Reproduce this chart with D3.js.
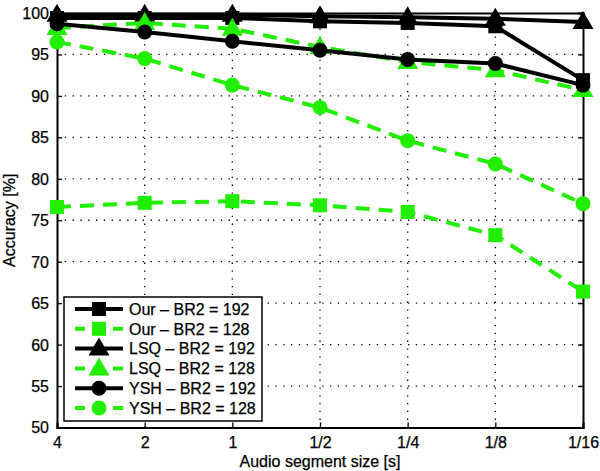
<!DOCTYPE html>
<html><head><meta charset="utf-8">
<script src="https://cdn.jsdelivr.net/npm/d3@7"></script>
<style>body{margin:0;background:#fff}svg{display:block;font-family:"Liberation Sans",Arial,sans-serif}</style>
</head><body><svg id="c" width="600" height="471"></svg>
<script>
const categories = ["4","2","1","1/2","1/4","1/8","1/16"];
const yTicks = [50,55,60,65,70,75,80,85,90,95,100];
const ourBR192 = [99.4,99.4,99.4,99.0,98.8,98.4,91.9];
const ourBR128 = [76.6,77.1,77.3,76.8,76.0,73.2,66.4];
const lsqBR192 = [99.8,99.8,99.8,99.6,99.5,99.3,98.9];
const lsqBR128 = [98.2,98.8,98.1,95.9,94.1,93.1,90.7];
const yshBR192 = [98.7,97.7,96.6,95.5,94.4,93.9,91.3];
const yshBR128 = [96.5,94.5,91.3,88.6,84.6,81.8,77.0];
const seriesNames = ["Our \u2013 BR2 = 192","Our \u2013 BR2 = 128","LSQ \u2013 BR2 = 192","LSQ \u2013 BR2 = 128","YSH \u2013 BR2 = 192","YSH \u2013 BR2 = 128"];
const xTitle = "Audio segment size [s]";
const yTitle = "Accuracy [%]";

const series = [
  {name:seriesNames[0], values:ourBR192, color:"#000", dash:null, marker:"square"},
  {name:seriesNames[1], values:ourBR128, color:"#22ee00", dash:"14,9", marker:"square"},
  {name:seriesNames[2], values:lsqBR192, color:"#000", dash:null, marker:"triangle"},
  {name:seriesNames[3], values:lsqBR128, color:"#22ee00", dash:"14,9", marker:"triangle"},
  {name:seriesNames[4], values:yshBR192, color:"#000", dash:null, marker:"circle"},
  {name:seriesNames[5], values:yshBR128, color:"#22ee00", dash:"14,9", marker:"circle"}
];

const FS = 16;
const svg = d3.select("#c");
const L=57, R=583, T=13, B=427.5;
const x = d3.scalePoint().domain(categories).range([L,R]).padding(0);
const y = d3.scaleLinear().domain([50,100]).range([B,T]);

// grid
const g = svg.append("g");
g.selectAll(".gy").data(yTicks.slice(1,-1)).join("line")
  .attr("x1",L).attr("x2",R).attr("y1",d=>y(d)).attr("y2",d=>y(d))
  .attr("stroke","#000").attr("stroke-width",1.3).attr("stroke-dasharray","1.3,6.5");
g.selectAll(".gx").data(categories.slice(1,-1)).join("line")
  .attr("y1",T).attr("y2",B).attr("x1",d=>x(d)).attr("x2",d=>x(d))
  .attr("stroke","#000").attr("stroke-width",1.3).attr("stroke-dasharray","1.3,6.5");

// axes
const axL = svg.append("g").attr("transform",`translate(${L},0)`)
  .call(d3.axisLeft(y).tickValues(yTicks).tickSize(-5).tickPadding(8));
const axR = svg.append("g").attr("transform",`translate(${R},0)`)
  .call(d3.axisRight(y).tickValues(yTicks).tickSize(-5).tickFormat(""));
const axB = svg.append("g").attr("transform",`translate(0,${B})`)
  .call(d3.axisBottom(x).tickSize(-5).tickPadding(9));
const axT = svg.append("g").attr("transform",`translate(0,${T})`)
  .call(d3.axisTop(x).tickSize(-5).tickFormat(""));
[axL,axR,axB,axT].forEach(a=>{
  a.select(".domain").attr("stroke","#000").attr("stroke-width",2);
  a.selectAll(".tick line").attr("stroke","#000").attr("stroke-width",1.3);
  a.selectAll("text").attr("font-size",FS).attr("fill","#000")
    .attr("font-family","Liberation Sans, Arial, sans-serif")
    .attr("stroke","#000").attr("stroke-width",0.25);
});
axL.selectAll("text").attr("dy","0.34em");
axB.selectAll("text").attr("dy","0.72em");

svg.append("text").attr("x",320).attr("y",467).attr("text-anchor","middle")
  .attr("font-size",FS).attr("stroke","#000").attr("stroke-width",0.25).text(xTitle);
svg.append("text").attr("transform",`translate(15,${(T+B)/2}) rotate(-90)`).attr("text-anchor","middle")
  .attr("font-size",FS).attr("stroke","#000").attr("stroke-width",0.25).text(yTitle);

function drawMarker(sel, type, color, sc){
  sc = sc||1;
  if(type==="square"){
    sel.append("rect").attr("x",-7*sc).attr("y",-7*sc).attr("width",14*sc).attr("height",14*sc).attr("fill",color);
  } else if(type==="triangle"){
    sel.append("path").attr("d",`M0,${-11*sc}L${10.5*sc},${7*sc}L${-10.5*sc},${7*sc}Z`).attr("fill",color);
  } else {
    sel.append("circle").attr("r",7.5*sc).attr("fill",color);
  }
}

const line = d3.line().x((d,i)=>x(categories[i])).y(d=>y(d));
const plot = svg.append("g");
series.forEach(s=>{
  const sg = plot.append("g");
  sg.append("path").datum(s.values).attr("d",line).attr("fill","none")
    .attr("stroke",s.color).attr("stroke-width",4).attr("stroke-dasharray",s.dash);
  s.values.forEach((v,i)=>{
    const m = sg.append("g").attr("transform",`translate(${x(categories[i])},${y(v)})`);
    drawMarker(m,s.marker,s.color);
  });
});

// legend
const lg = svg.append("g");
lg.append("rect").attr("x",64).attr("y",297).attr("width",198).attr("height",124)
  .attr("fill","#fff").attr("stroke","#000").attr("stroke-width",1.5);
series.forEach((s,i)=>{
  const yy = 309 + i*19.8;
  lg.append("line").attr("x1",75).attr("x2",123).attr("y1",yy).attr("y2",yy)
    .attr("stroke",s.color).attr("stroke-width",4).attr("stroke-dasharray",s.dash?"10,9":null);
  const m = lg.append("g").attr("transform",`translate(99,${yy})`);
  drawMarker(m,s.marker,s.color,1);
  lg.append("text").attr("x",129).attr("y",yy).attr("dy","0.36em").attr("font-size",FS)
    .attr("stroke","#000").attr("stroke-width",0.25).text(s.name);
});
</script></body></html>
